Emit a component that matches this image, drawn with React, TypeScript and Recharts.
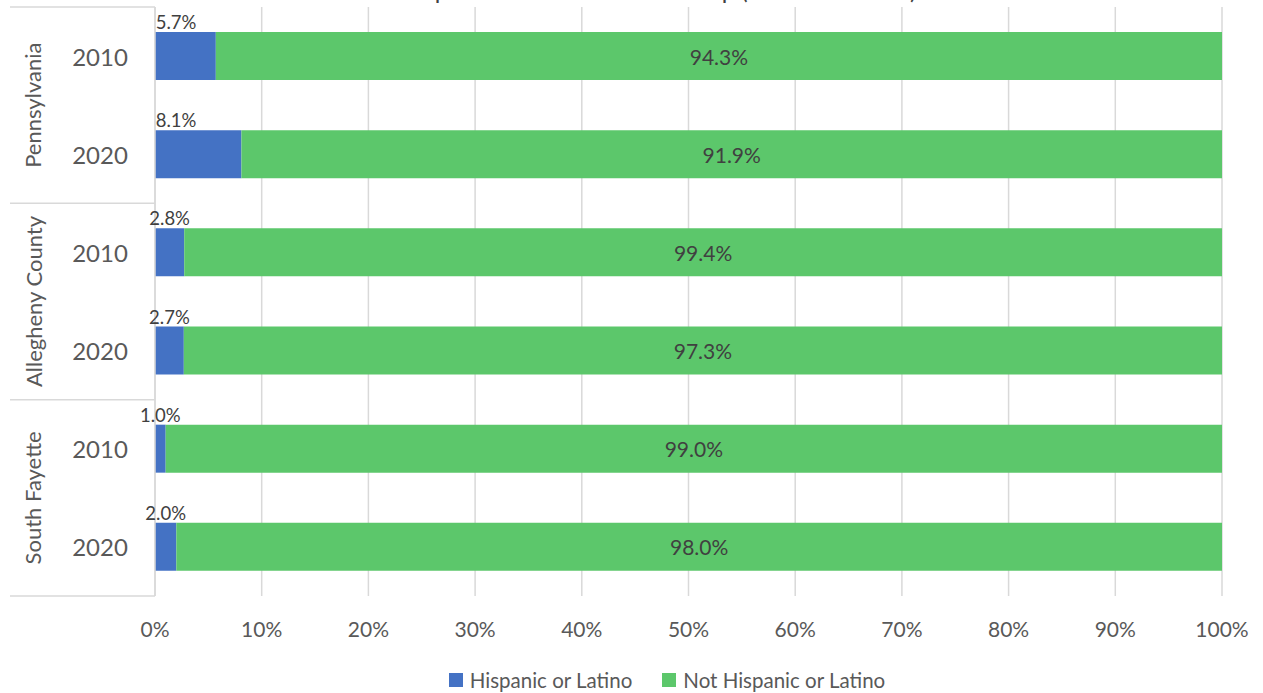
import React from 'react';
import {
  BarChart,
  Bar,
  XAxis,
  YAxis,
  CartesianGrid,
  Legend,
  LabelList,
} from 'recharts';

const GROUPS = ['Pennsylvania', 'Allegheny County', 'South Fayette'];
const YEARS = ['2010', '2020', '2010', '2020', '2010', '2020'];
const ROW_GROUP = [0, 0, 1, 1, 2, 2];
const HISPANIC = [5.7, 8.1, 2.8, 2.7, 1.0, 2.0];
const NOT_HISPANIC = [94.3, 91.9, 99.4, 97.3, 99.0, 98.0];
const X_TICKS = [0, 0.1, 0.2, 0.3, 0.4, 0.5, 0.6, 0.7, 0.8, 0.9, 1];

const BLUE = '#4472c4';
const GREEN = '#5cc76b';
const GRID = '#d9d9d9';
const TEXT = '#595959';
const FONT = 'Lato, "Noto Sans", sans-serif';

const W = 1263;
const H = 693;
const LEFT = 155; // plot left edge (margin + axis width)
const TABLE_LEFT = 10;

const data = YEARS.map((year, i) => ({
  row: `${GROUPS[ROW_GROUP[i]]} ${year}`,
  year,
  hispanic: HISPANIC[i],
  notHispanic: NOT_HISPANIC[i],
}));

// year tick + group label + table lines on the left
const GroupTick = (props: any) => {
  const { y, index, payload } = props;
  const band = (596 - 7) / data.length;
  const i = index ?? data.findIndex((d) => d.row === payload.value);
  const row = data[i];
  const first = i % 2 === 0;
  return (
    <g>
      <text
        x={100}
        y={y}
        textAnchor="middle"
        dominantBaseline="central"
        fill={TEXT}
        fontSize={24}
        fontFamily={FONT}
      >
        {row.year}
      </text>
      {first && (
        <>
          <line x1={TABLE_LEFT} x2={LEFT} y1={y - band / 2} y2={y - band / 2} stroke={GRID} strokeWidth={1.5} />
          <text
            x={33}
            y={y + band / 2}
            transform={`rotate(-90 33 ${y + band / 2})`}
            textAnchor="middle"
            dominantBaseline="central"
            fill={TEXT}
            fontSize={22}
            fontFamily={FONT}
          >
            {GROUPS[ROW_GROUP[i]]}
          </text>
        </>
      )}
      {i === data.length - 1 && (
        <line x1={TABLE_LEFT} x2={LEFT} y1={y + band / 2} y2={y + band / 2} stroke={GRID} strokeWidth={1.5} />
      )}
    </g>
  );
};

const HispanicLabel = (props: any) => {
  const { x, y, width, index } = props;
  const cx = Math.min(x + width / 2, x + 21);
  return (
    <text
      x={cx}
      y={y - 3}
      textAnchor="middle"
      fill="#404040"
      fontSize={18.5}
      fontFamily={FONT}
    >
      {HISPANIC[index].toFixed(1)}%
    </text>
  );
};

const NotHispanicLabel = (props: any) => {
  const { x, y, width, height, index } = props;
  return (
    <text
      x={x + width / 2}
      y={y + height / 2}
      textAnchor="middle"
      dominantBaseline="central"
      fill="#404040"
      fontSize={21}
      fontFamily={FONT}
    >
      {NOT_HISPANIC[index].toFixed(1)}%
    </text>
  );
};

const LegendContent = () => (
  <div
    style={{
      display: 'flex',
      justifyContent: 'center',
      gap: 30,
      fontFamily: FONT,
      fontSize: 20.5,
      color: TEXT,
      paddingLeft: 102,
      paddingTop: 12,
    }}
  >
    {[
      { name: 'Hispanic or Latino', color: BLUE },
      { name: 'Not Hispanic or Latino', color: GREEN },
    ].map((it) => (
      <span key={it.name} style={{ display: 'flex', alignItems: 'center', gap: 7 }}>
        <span style={{ width: 14, height: 14, background: it.color, display: 'inline-block' }} />
        {it.name}
      </span>
    ))}
  </div>
);

export default function App() {
  return (
    <div style={{ position: 'absolute', top: 0, left: 0, width: W, height: H, overflow: 'hidden', background: '#fff' }}>
      <div
        style={{
          position: 'absolute',
          top: -24,
          left: LEFT - 30,
          width: 1222 - LEFT,
          textAlign: 'center',
          fontFamily: FONT,
          fontSize: 24,
          lineHeight: '28px',
          color: '#404040',
        }}
      >
        Hispanic or Latino Ethnic Group (2010 and 2020)
      </div>
      <BarChart
        width={W}
        height={H}
        data={data}
        layout="vertical"
        stackOffset="expand"
        margin={{ top: 7, right: 41, bottom: 0, left: TABLE_LEFT }}
      >
        <CartesianGrid horizontal={false} stroke={GRID} strokeWidth={1.5} />
        <XAxis
          type="number"
          domain={[0, 1]}
          ticks={X_TICKS}
          tickFormatter={(v: number) => `${Math.round(v * 100)}%`}
          axisLine={false}
          tickLine={false}
          tickMargin={20}
          height={60}
          tick={{ fill: TEXT, fontSize: 21, fontFamily: FONT }}
        />
        <YAxis
          type="category"
          dataKey="row"
          width={LEFT - TABLE_LEFT}
          interval={0}
          tickLine={false}
          axisLine={{ stroke: GRID, strokeWidth: 1.5 }}
          tick={<GroupTick />}
        />
        <Legend verticalAlign="bottom" height={37} content={<LegendContent />} />
        <Bar dataKey="hispanic" name="Hispanic or Latino" stackId="a" fill={BLUE} barSize={48} isAnimationActive={false}>
          <LabelList dataKey="hispanic" content={<HispanicLabel />} />
        </Bar>
        <Bar dataKey="notHispanic" name="Not Hispanic or Latino" stackId="a" fill={GREEN} barSize={48} isAnimationActive={false}>
          <LabelList dataKey="notHispanic" content={<NotHispanicLabel />} />
        </Bar>
      </BarChart>
    </div>
  );
}
